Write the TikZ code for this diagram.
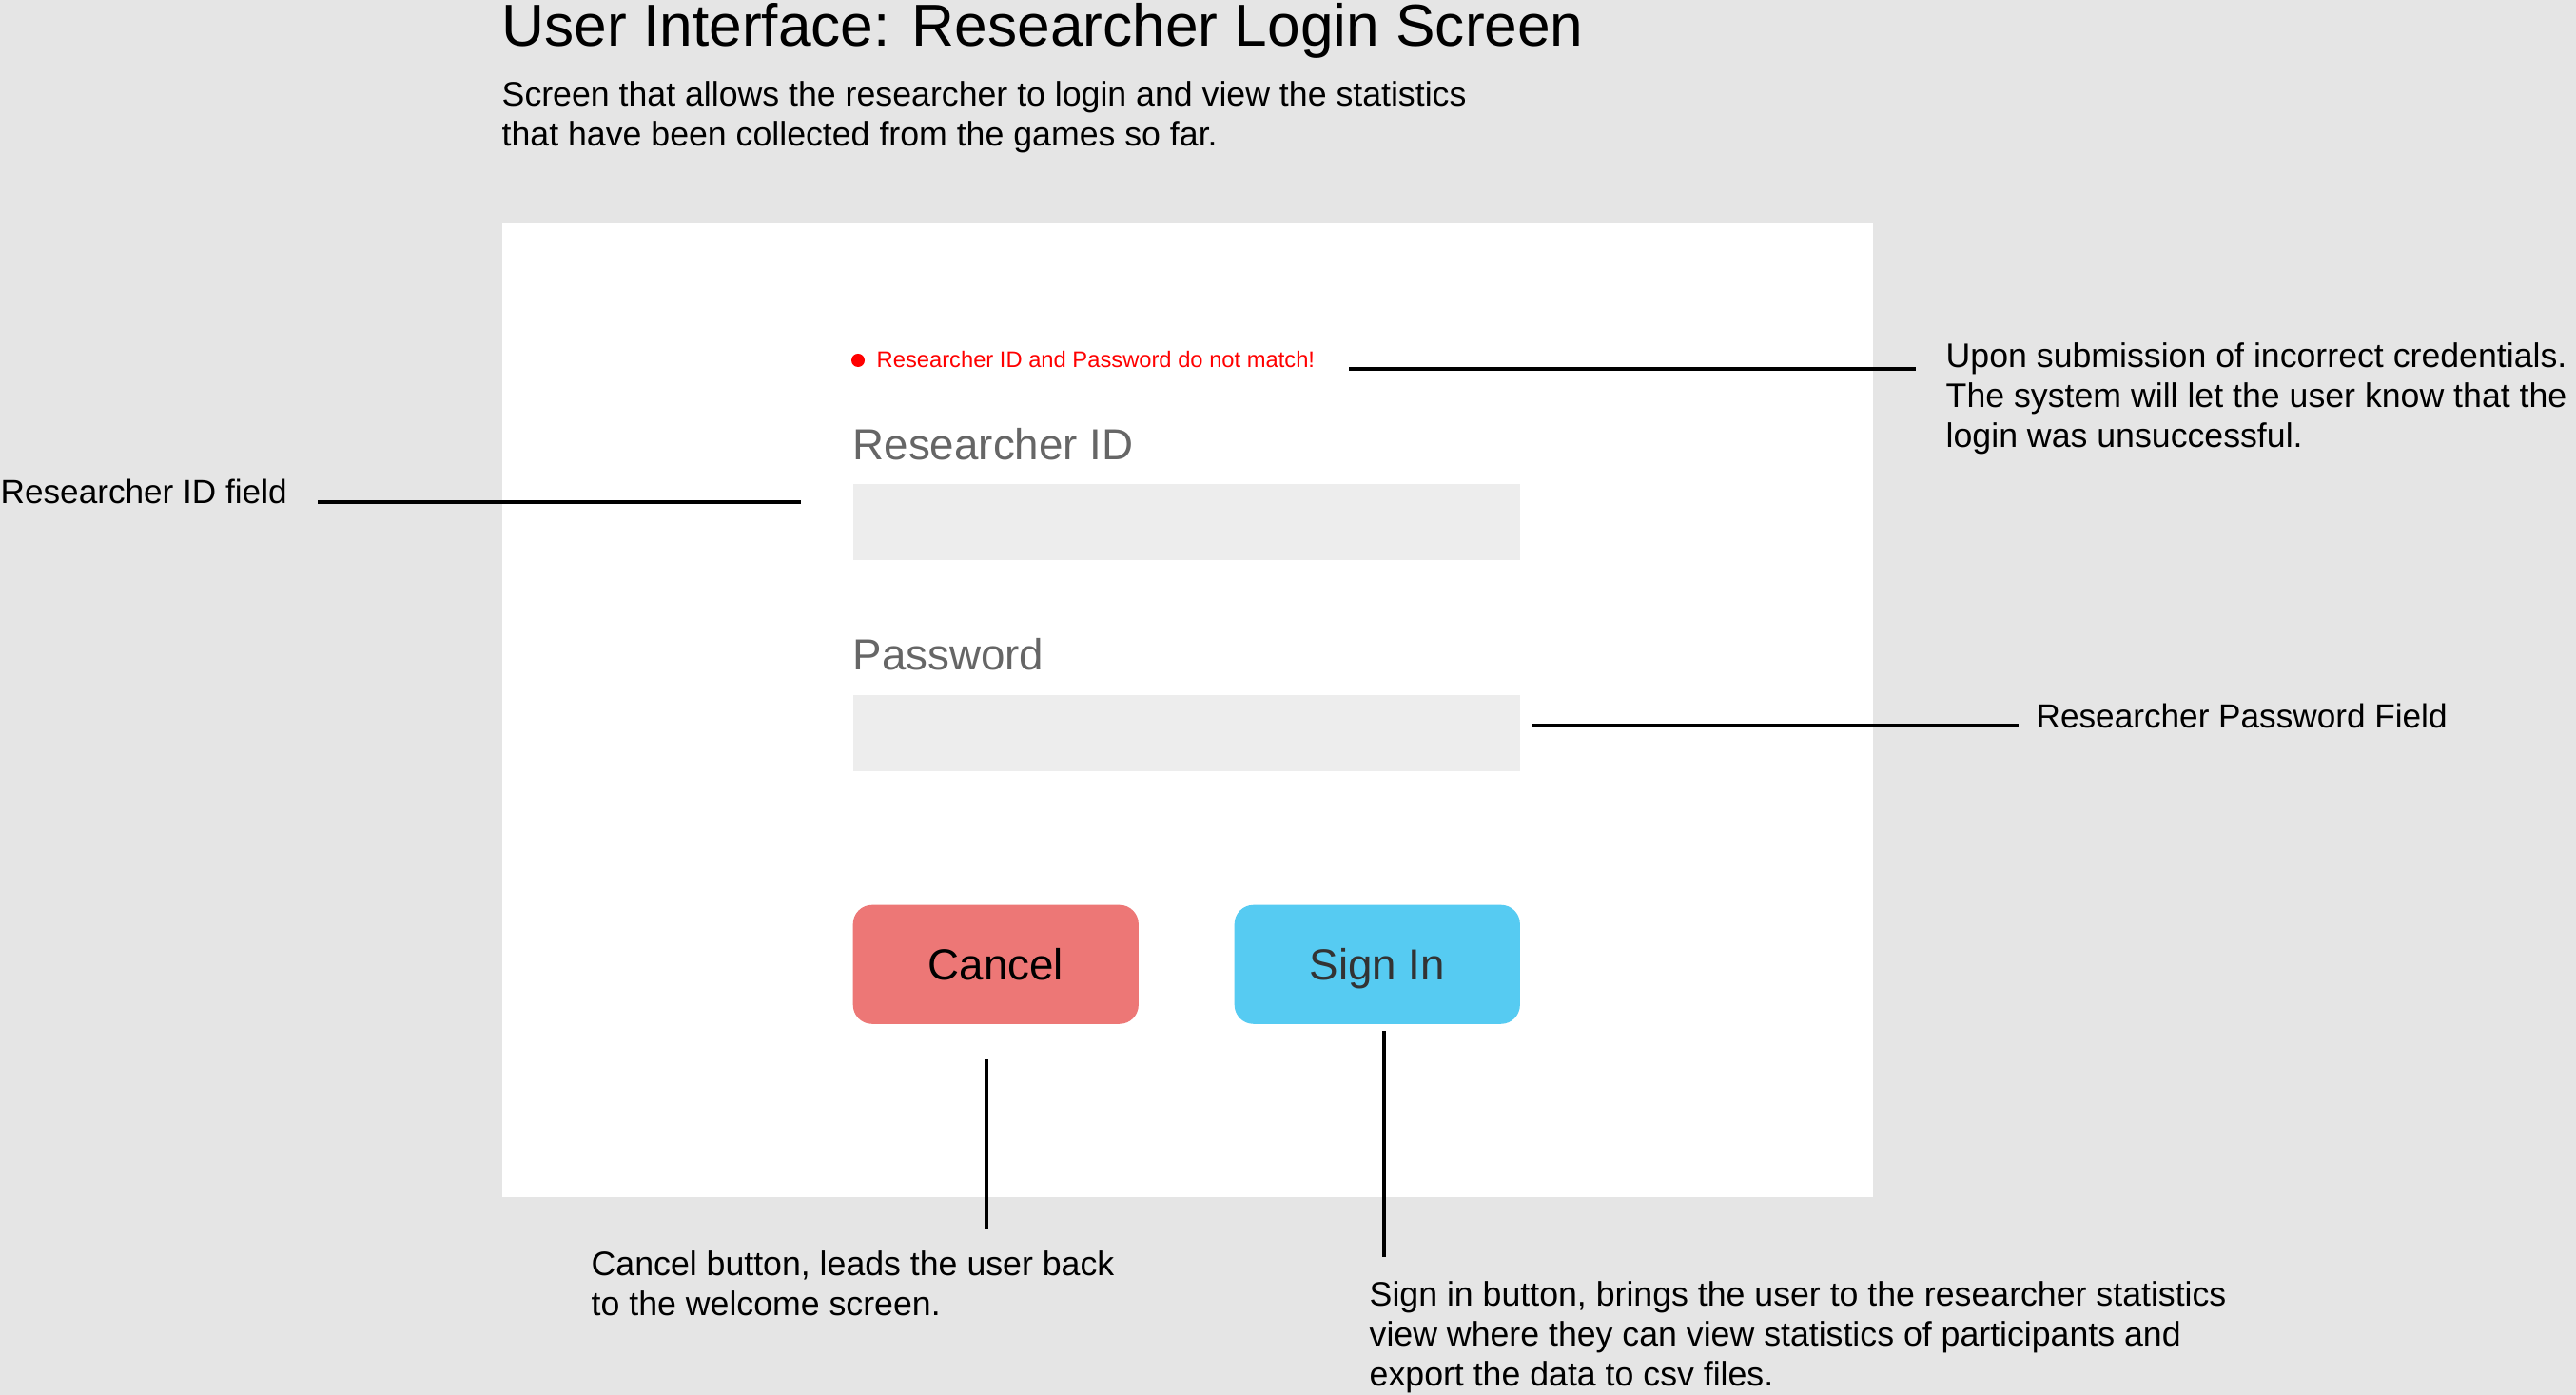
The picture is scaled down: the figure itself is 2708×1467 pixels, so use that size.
\documentclass[tikz,border=0pt]{standalone}
\usepackage{fontspec}
\setmainfont{Liberation Sans}
\usepackage{tikz}
\usetikzlibrary{positioning}
\definecolor{canvas}{RGB}{229,229,229}
\definecolor{fieldgray}{RGB}{237,237,237}
\definecolor{labelgray}{RGB}{102,102,102}
\definecolor{errorred}{RGB}{255,0,0}
\definecolor{cancelred}{RGB}{237,119,118}
\definecolor{signblue}{RGB}{86,203,242}
\definecolor{signtext}{RGB}{51,51,51}

\begin{document}
\begin{tikzpicture}[x=0.01cm, y=-0.01cm,
    note/.style={anchor=north west, inner sep=0pt, align=left, font=\fontsize{10.15}{11.95}\selectfont},
    oneline/.style={anchor=base west, inner sep=0pt, font=\fontsize{10}{12}\selectfont},
    field/.style={fill=fieldgray, minimum width=7.01cm, minimum height=0.80cm, inner sep=0pt, anchor=north west},
    fieldname/.style={anchor=base west, inner sep=0pt, text=labelgray, font=\fontsize{13}{15}\selectfont},
    button/.style={rounded corners=0.2cm, minimum width=3cm, minimum height=1.25cm, inner sep=0pt, anchor=north west, text height=9.3pt, text depth=0pt, font=\fontsize{13}{15}\selectfont},
    callout/.style={line width=1.2pt}
]
    % Canvas
    \fill[canvas] (0,0) rectangle (2708,1467);
    \useasboundingbox (0,0) rectangle (2708,1467);

    % Heading
    \node[anchor=base west, inner sep=0pt, font=\fontsize{17.7}{20}\selectfont] (title) at (527,49) {User Interface: Researcher Login Screen};
    \node[note] (intro) at (527,85) {Screen that allows the researcher to login and view the statistics\\that have been collected from the games so far.};

    % Login screen
    \node[fill=white, minimum width=14.4cm, minimum height=10.25cm, inner sep=0pt, anchor=north west] (screen) at (527,233) {};
    \node[circle, fill=errorred, minimum size=0.14cm, inner sep=0pt] (errdot) at (902,379) {};
    \node[anchor=base west, inner sep=0pt, text=errorred, font=\fontsize{6.75}{8}\selectfont] (errmsg) at (921,387) {Researcher ID and Password do not match!};
    \node[fieldname] (idname) at (896,484) {Researcher ID};
    \node[field] (idfield) at (896,508) {};
    \node[fieldname] (pwname) at (896,705) {Password};
    \node[field] (pwfield) at (896,730) {};
    \node[button, fill=cancelred] (cancel) at (896,951) {Cancel};
    \node[button, fill=signblue, text=signtext] (signin) at (1297,951) {Sign In};

    % Notes
    \node[oneline] (idnote) at (0,530) {Researcher ID field};
    \node[note] (errnote) at (2045,360) {Upon submission of incorrect credentials.\\The system will let the user know that the\\login was unsuccessful.};
    \node[oneline] (pwnote) at (2140,765) {Researcher Password Field};
    \node[note] (cancelnote) at (621,1315) {Cancel button, leads the user back\\to the welcome screen.};
    \node[note] (signnote) at (1439,1347) {Sign in button, brings the user to the researcher statistics\\view where they can view statistics of participants and\\export the data to csv files.};

    % Callout lines
    \coordinate (errA) at (1418,388);
    \coordinate (errB) at (2014,388);
    \coordinate (idA) at (334,528);
    \coordinate (idB) at (842,528);
    \coordinate (pwA) at (1611,763);
    \coordinate (pwB) at (2122,763);
    \coordinate (cancelA) at (1037,1114);
    \coordinate (cancelB) at (1037,1292);
    \coordinate (signA) at (1455,1084);
    \coordinate (signB) at (1455,1322);
    \draw[callout] (errA) -- (errB);
    \draw[callout] (idA) -- (idB);
    \draw[callout] (pwA) -- (pwB);
    \draw[callout] (cancelA) -- (cancelB);
    \draw[callout] (signA) -- (signB);
\end{tikzpicture}
\end{document}
